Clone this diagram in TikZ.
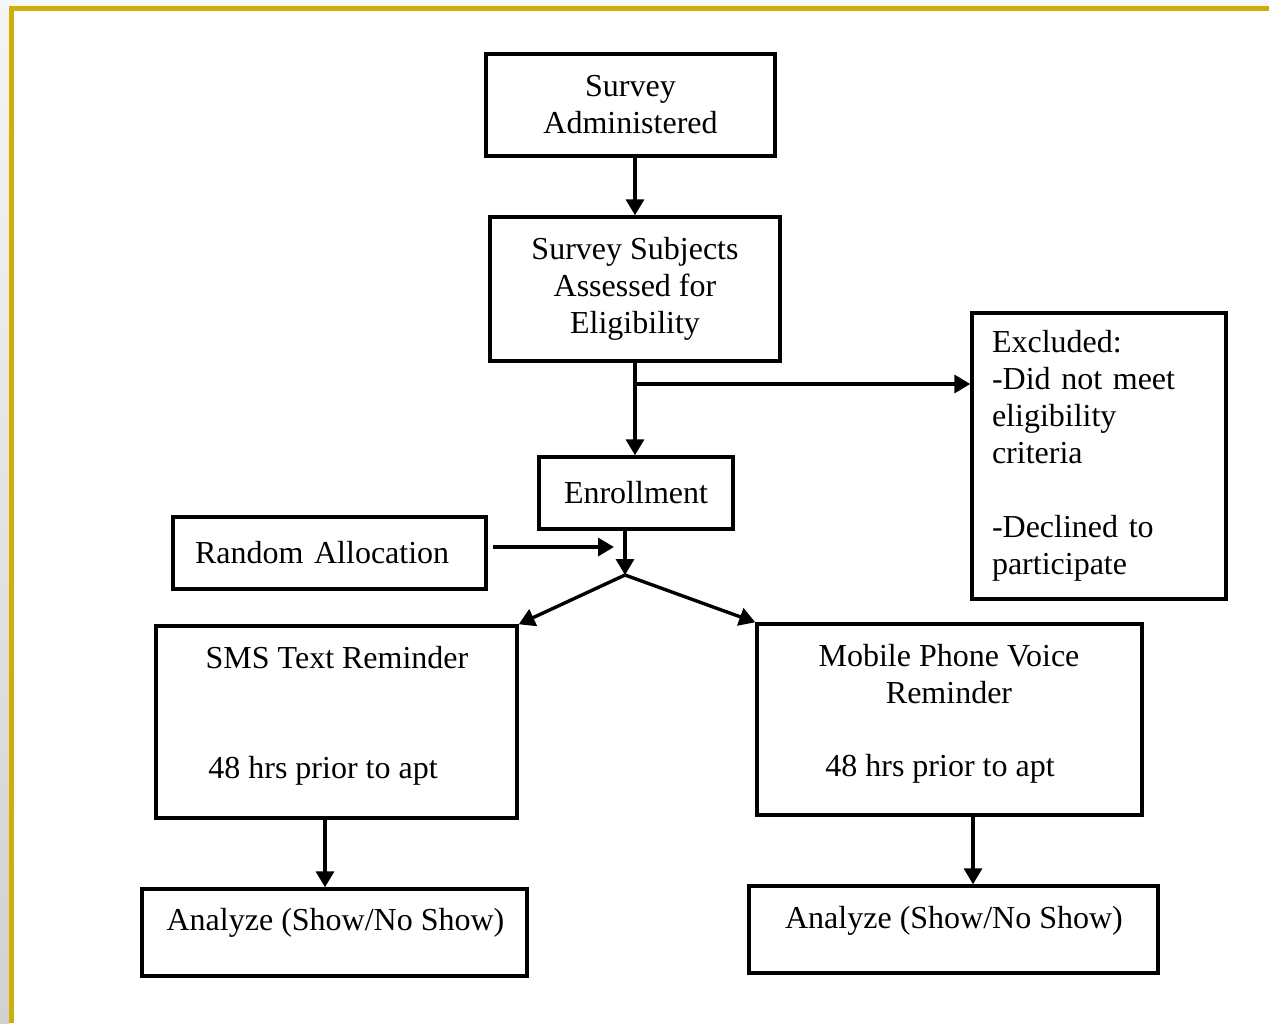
\documentclass[tikz,border=0pt]{standalone}
\usepackage{fontspec}
\setmainfont{Liberation Serif}
\usepackage{xcolor}
\usetikzlibrary{positioning,arrows.meta}
\definecolor{framegold}{RGB}{206,174,8}

\begin{document}
\begin{tikzpicture}[
    x=0.5pt, y=-0.5pt,
    line width=1.7pt,
    >={Triangle[length=8pt,width=9pt]},
    font=\fontsize{16}{18.5}\selectfont
]


\tikzstyle{box}=[
    draw,
    rectangle,
    inner sep=0pt,
    align=center
]
\tikzstyle{arr}=[->]


% page frame
\useasboundingbox (0,0) rectangle (1269,1023);
\fill[white] (0,0) rectangle (1269,1023);
\fill[black!3] (0,0) rectangle (1269,6);
\shade[top color=black!4, bottom color=black!18] (0,6) rectangle (9,1023);
\fill[framegold] (9,6) rectangle (1269,11);
\fill[framegold] (9,6) rectangle (14,1023);


\node[box, minimum width=144.5pt, minimum height=51pt] (admin) at (630.5,105) {Survey\\Administered};
\node[box, minimum width=145pt, minimum height=72pt] (elig) at (635,289) {Survey Subjects\\Assessed for\\Eligibility};
\node[box, minimum width=127pt, minimum height=143pt, text width=107pt, align=left, inner xsep=10pt] (excl) at (1099,456)
    {Excluded:\\-Did not meet\\eligibility\\criteria\\[18.5pt]-Declined to\\participate};
\node[box, minimum width=97pt, minimum height=36pt] (enroll) at (636,493) {Enrollment};
\node[box, minimum width=156.5pt, minimum height=36pt, text width=134.5pt, align=left, inner xsep=11pt] (rand) at (329.5,553) {Random Allocation};

\node[box, minimum width=180.5pt, minimum height=96pt] (sms) at (336.5,722) {};
\node (smstop) at (337,658) {SMS Text Reminder};
\node (smsbot) at (323,771) {48 hrs prior to apt};

\node[box, minimum width=192.5pt, minimum height=95.5pt] (voice) at (949.5,719.5) {};
\node[align=center] (voicetop) at (949,674) {Mobile Phone Voice\\Reminder};
\node (voicebot) at (940,769) {48 hrs prior to apt};

\node[box, minimum width=192.5pt, minimum height=43.5pt] (anaL) at (334.5,932.5) {};
\node (anaLtext) at (335.5,923) {Analyze (Show/No Show)};
\node[box, minimum width=204.5pt, minimum height=43.5pt] (anaR) at (953.5,929.5) {};
\node (anaRtext) at (954,921) {Analyze (Show/No Show)};


\coordinate (split) at (636,384);
\coordinate (fork) at (625,575);
\coordinate (rstart) at (493,547);
\coordinate (rtip) at (614,547);
\coordinate (smsout) at ([xshift=-5.75pt]sms.south);
\coordinate (voiceout) at ([xshift=11.75pt]voice.south);


\draw[arr] (elig.north |- admin.south) -- (elig.north);
\draw[arr] (elig.south) -- (elig.south |- enroll.north);
\draw[arr] (split) -- (split -| excl.west);
\draw[arr] (rstart) -- (rtip);
\draw[arr] (fork |- enroll.south) -- (fork);
\draw[arr] (fork) -- (sms.north east);
\draw[arr] (fork) -- (voice.north west);
\draw[arr] (smsout) -- (smsout |- anaL.north);
\draw[arr] (voiceout) -- (voiceout |- anaR.north);

\end{tikzpicture}
\end{document}
